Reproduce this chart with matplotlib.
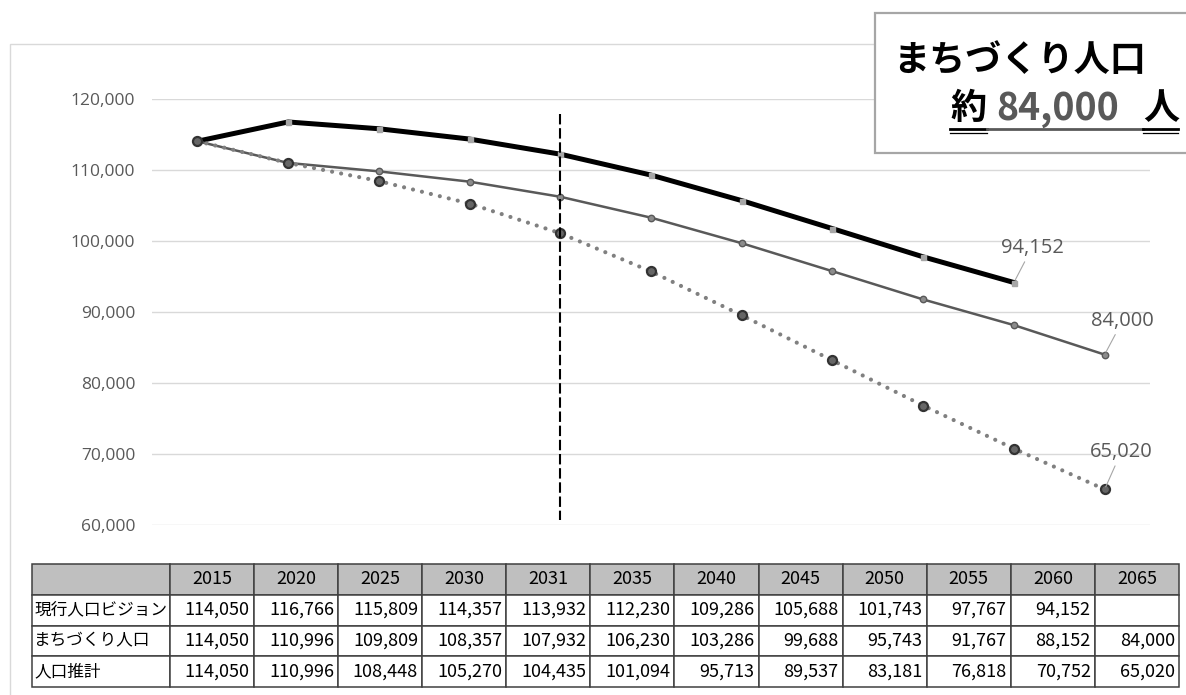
"""Population outlook chart with a value table underneath."""

import matplotlib.pyplot as plt
from matplotlib.lines import Line2D
from matplotlib.patches import Rectangle
from matplotlib.ticker import FuncFormatter

W, H = 1186, 695
JP = ["Noto Sans CJK JP", "DejaVu Sans"]
LATIN = ["Open Sans", "DejaVu Sans"]

years = [2015, 2020, 2025, 2030, 2031, 2035, 2040, 2045, 2050, 2055, 2060, 2065]
series_names = ["現行人口ビジョン", "まちづくり人口", "人口推計"]
vision = [114050, 116766, 115809, 114357, 113932, 112230, 109286, 105688,
          101743, 97767, 94152, None]
planned = [114050, 110996, 109809, 108357, 107932, 106230, 103286, 99688,
           95743, 91767, 88152, 84000]
projection = [114050, 110996, 108448, 105270, 104435, 101094, 95713, 89537,
              83181, 76818, 70752, 65020]

# the line chart skips the single-year 2031 column
chart_years = [y for y in years if y != 2031]
divider_year = 2035
divider_span = (117900, 60700)
y_ticks = list(range(60000, 120001, 10000))

headline = "まちづくり人口"
headline_parts = ["約", "84,000", "人"]


def fx(x):
    return x / W


def fy(y):
    return 1 - y / H


def chart_values(values):
    pairs = [(chart_years.index(y), v) for y, v in zip(years, values)
             if y in chart_years and v is not None]
    return [p[0] for p in pairs], [p[1] for p in pairs]


fig = plt.figure(figsize=(W / 100, H / 100), dpi=100)

# outer chart frame
fig.add_artist(Rectangle((fx(10), fy(1200)), 1200 / W, (1200 - 44) / H,
                         transform=fig.transFigure, fill=False,
                         edgecolor="#d9d9d9", lw=1))

ax = fig.add_axes([fx(152), fy(525), (1150 - 152) / W, (525 - 99) / H])
ax.set_xlim(-0.5, len(chart_years) - 0.5)
ax.set_ylim(60000, 120000)
ax.set_yticks(y_ticks)
ax.yaxis.set_major_formatter(FuncFormatter(lambda v, _: f"{v:,.0f}"))
ax.set_xticks([])
ax.grid(axis="y", color="#d9d9d9", lw=1)
ax.set_axisbelow(True)
for s in ax.spines.values():
    s.set_visible(False)
ax.tick_params(axis="y", length=0, pad=12, labelcolor="#595959", labelsize=12.5)
for lab in ax.get_yticklabels():
    lab.set_family(LATIN)

x, v = chart_values(vision)
ax.plot(x, v, color="black", lw=3.6, marker="s", ms=3.6,
        mfc="#a6a6a6", mec="#a6a6a6", clip_on=False, zorder=3)
x, v = chart_values(planned)
ax.plot(x, v, color="#595959", lw=1.8, marker="o", ms=4.6,
        mfc="#8c8c8c", mec="#595959", mew=1, clip_on=False, zorder=4)
x, v = chart_values(projection)
ax.plot(x, v, color="#808080", lw=3, ls=(0, (0.01, 2.2)),
        dash_capstyle="round", clip_on=False, zorder=5)
ax.plot(x, v, ls="none", marker="o", ms=6.5, mfc="#666666", mec="#333333",
        mew=1.6, clip_on=False, zorder=6)

dpos = chart_years.index(divider_year)
ax.plot([dpos, dpos], divider_span, color="black", lw=1.5,
        ls=(0, (5, 1.8)), zorder=7)

# end-of-line value labels with leader lines
label_offsets = [(13, 25), (13, 24.5), (12, 27)]
for vals, (dx, dy) in zip([vision, planned, projection], label_offsets):
    xs, vs = chart_values(vals)
    ax.annotate(f"{vs[-1]:,}", xy=(xs[-1], vs[-1]), xytext=(dx, dy),
                textcoords="offset points", ha="center", va="center",
                fontsize=14.5, color="#595959", family=LATIN,
                arrowprops=dict(arrowstyle="-", color="#a6a6a6", lw=0.8,
                                shrinkA=1, shrinkB=2), zorder=8)

# headline box
fig.add_artist(Rectangle((fx(875), fy(153)), 400 / W, 140 / H,
                         transform=fig.transFigure, facecolor="white",
                         edgecolor="#a6a6a6", lw=1.6, zorder=10))
fig.text(fx(893), fy(60), headline, fontsize=26, fontweight="bold",
         family=JP, va="center", ha="left", zorder=11)
part_x = [950, 996, 1143]
part_color = ["black", "#595959", "black"]
part_size = [26, 27, 26]
for txt, px_, c, fs in zip(headline_parts, part_x, part_color, part_size):
    fig.text(fx(px_), fy(109), txt, fontsize=fs, fontweight="bold",
             family=JP, color=c, va="center", ha="left", zorder=11)
for x0, x1, c in [(950, 987, "black"), (987, 1143, "#595959"),
                  (1143, 1178, "black")]:
    fig.add_artist(Line2D([fx(x0), fx(x1)], [fy(129), fy(129)], color=c,
                          lw=2, transform=fig.transFigure, zorder=11))
    if c == "black":
        fig.add_artist(Line2D([fx(x0), fx(x1)], [fy(132.5), fy(132.5)], color=c,
                              lw=0.9, transform=fig.transFigure, zorder=11))

# data table
tax = fig.add_axes([fx(32), fy(687), (1179 - 32) / W, (687 - 564) / H])
tax.axis("off")
header = [""] + [str(y) for y in years]
rows = []
for name, vals in zip(series_names, [vision, planned, projection]):
    rows.append([name] + ["" if v is None else f"{v:,}" for v in vals])
col_w = [138] + [84.1] * len(years)
tbl = tax.table(cellText=[header] + rows, colWidths=[w / sum(col_w) for w in col_w],
                bbox=[0, 0, 1, 1], cellLoc="right")
tbl.auto_set_font_size(False)
tbl.set_fontsize(13)
for (r, c), cell in tbl.get_celld().items():
    cell.set_edgecolor("#404040")
    cell.set_linewidth(1.1)
    cell.PAD = 0.05
    cell.get_text().set_family(JP)
    if r == 0:
        cell.set_facecolor("#bfbfbf")
        cell._loc = "center"
        cell.get_text().set_ha("center")
    elif c == 0:
        cell._loc = "left"
        cell.get_text().set_ha("left")
        cell.get_text().set_fontsize(12)
        cell.PAD = 0.015

fig.savefig("out.png", dpi=100)
